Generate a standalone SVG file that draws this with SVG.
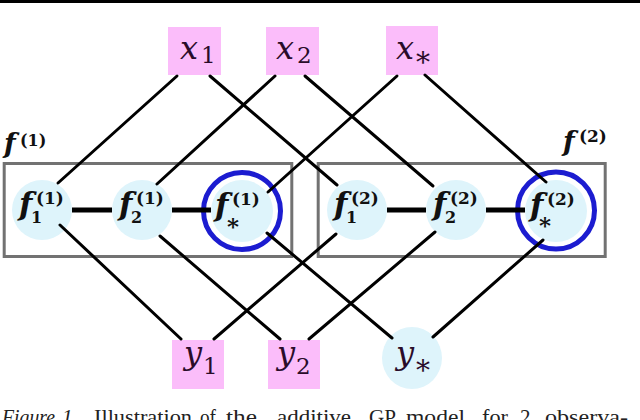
<svg xmlns="http://www.w3.org/2000/svg" width="640" height="420" viewBox="0 0 640 420">
<style>
.box{fill:#fbbdfa}
.cir{fill:#def4fb}
.ring{fill:none;stroke:#1c1cd0;stroke-width:5}
.grp{fill:none;stroke:#727272;stroke-width:3}
.ln{stroke:#000;stroke-width:3;stroke-linecap:round}
.th{stroke:#000;stroke-width:5}
.mi{font-family:"DejaVu Serif",serif;font-style:italic;fill:#2a0c2a}
.mr{font-family:"DejaVu Serif",serif;fill:#2a0c2a}
.fi{font-family:"DejaVu Serif",serif;font-style:italic;font-weight:bold;fill:#111}
.fr{font-family:"DejaVu Serif",serif;font-weight:bold;fill:#111}
.cap{font-family:"Liberation Serif",serif;font-size:21px;fill:#222}
</style>
<rect x="0" y="0" width="640" height="3" fill="#000"/>

<g id="group1">
<rect class="grp" x="4.2" y="163.5" width="287.6" height="93"/>
<text class="fi" x="4" y="153" font-size="27">f</text><text class="fr" x="20" y="146" font-size="16">(1)</text>
</g>
<g id="group2">
<rect class="grp" x="318.2" y="163.5" width="287" height="93"/>
<text class="fi" x="563" y="151" font-size="27">f</text><text class="fr" x="579" y="142" font-size="17">(2)</text>
</g>

<g id="x1"><rect class="box" x="168" y="27" width="53" height="48"/><text class="mi" x="180" y="59" font-size="32">x</text><text class="mr" x="201" y="63" font-size="23">1</text></g>
<g id="x2"><rect class="box" x="266" y="27" width="53" height="48"/><text class="mi" x="276" y="59" font-size="32">x</text><text class="mr" x="297" y="63" font-size="23">2</text></g>
<g id="xs"><rect class="box" x="386" y="26" width="52" height="49"/><text class="mi" x="396" y="59" font-size="32">x</text><text class="mr" x="416" y="72" font-size="28">*</text></g>

<g id="f1_1"><circle class="cir" cx="42" cy="210" r="30"/><text class="fi" x="19" y="215" font-size="31">f</text><text class="fr" x="36" y="204" font-size="17">(1)</text><text class="fr" x="31" y="223" font-size="16">1</text></g>
<g id="f2_1"><circle class="cir" cx="142" cy="210" r="30"/><text class="fi" x="119" y="215" font-size="31">f</text><text class="fr" x="136" y="204" font-size="17">(1)</text><text class="fr" x="131" y="223" font-size="16">2</text></g>
<g id="fs_1"><circle class="cir" cx="242" cy="211" r="31"/><circle class="ring" cx="242" cy="211" r="38.5"/><text class="fi" x="215" y="216" font-size="31">f</text><text class="fr" x="232" y="205" font-size="17">(1)</text><text class="fr" x="227" y="234" font-size="23">*</text></g>
<g id="f1_2"><circle class="cir" cx="357" cy="210" r="30"/><text class="fi" x="334" y="215" font-size="31">f</text><text class="fr" x="351" y="204" font-size="17">(2)</text><text class="fr" x="346" y="223" font-size="16">1</text></g>
<g id="f2_2"><circle class="cir" cx="456" cy="210" r="30"/><text class="fi" x="433" y="215" font-size="31">f</text><text class="fr" x="450" y="204" font-size="17">(2)</text><text class="fr" x="445" y="223" font-size="16">2</text></g>
<g id="fs_2"><circle class="cir" cx="556" cy="211" r="31"/><circle class="ring" cx="556" cy="210.5" r="38.5"/><text class="fi" x="530" y="216" font-size="31">f</text><text class="fr" x="547" y="205" font-size="17">(2)</text><text class="fr" x="539" y="233" font-size="23">*</text></g>

<g id="y1"><rect class="box" x="172" y="340" width="52" height="49"/><text class="mi" x="184" y="364" font-size="32">y</text><text class="mr" x="203" y="374" font-size="23">1</text></g>
<g id="y2"><rect class="box" x="268" y="340" width="52" height="49"/><text class="mi" x="277" y="364" font-size="32">y</text><text class="mr" x="296" y="374" font-size="23">2</text></g>
<g id="ys"><ellipse class="cir" cx="412" cy="358" rx="30" ry="31"/><text class="mi" x="396" y="364" font-size="32">y</text><text class="mr" x="416" y="380" font-size="28">*</text></g>

<g id="connectors">
<line class="ln" x1="177" y1="76" x2="58" y2="183"/>
<line class="ln" x1="210" y1="76" x2="337" y2="185"/>
<line class="ln" x1="275" y1="76" x2="157" y2="184"/>
<line class="ln" x1="305" y1="76" x2="433" y2="186"/>
<line class="ln" x1="397" y1="76" x2="268" y2="192"/>
<line class="ln" x1="425" y1="75" x2="546" y2="182"/>
<line class="ln" x1="60" y1="225" x2="181" y2="339"/>
<line class="ln" x1="160" y1="236" x2="280" y2="339"/>
<line class="ln" x1="267" y1="233" x2="392" y2="338"/>
<line class="ln" x1="336" y1="234" x2="214" y2="339"/>
<line class="ln" x1="435" y1="232" x2="309" y2="339"/>
<line class="ln" x1="543" y1="240" x2="433" y2="337"/>
<line class="th" x1="72" y1="210" x2="112" y2="210"/>
<line class="th" x1="172" y1="210" x2="211" y2="210"/>
<line class="th" x1="387" y1="210" x2="426" y2="210"/>
<line class="th" x1="486" y1="210" x2="525" y2="210"/>
</g>

<g id="caption">
<text class="cap" x="2" y="424" font-style="italic" textLength="53" lengthAdjust="spacingAndGlyphs">Figure</text>
<text class="cap" x="62" y="424" font-style="italic">1.</text>
<text class="cap" x="94" y="424" textLength="98" lengthAdjust="spacingAndGlyphs">Illustration</text>
<text class="cap" x="200" y="424" textLength="16" lengthAdjust="spacingAndGlyphs">of</text>
<text class="cap" x="226" y="424" textLength="31" lengthAdjust="spacingAndGlyphs">the</text>
<text class="cap" x="277" y="424" textLength="74" lengthAdjust="spacingAndGlyphs">additive</text>
<text class="cap" x="369" y="424" textLength="27" lengthAdjust="spacingAndGlyphs">GP</text>
<text class="cap" x="406" y="424" textLength="59" lengthAdjust="spacingAndGlyphs">model</text>
<text class="cap" x="482" y="424" textLength="26" lengthAdjust="spacingAndGlyphs">for</text>
<text class="cap" x="520" y="424">2</text>
<text class="cap" x="545" y="424" textLength="83" lengthAdjust="spacingAndGlyphs">observa-</text>
</g>
</svg>
